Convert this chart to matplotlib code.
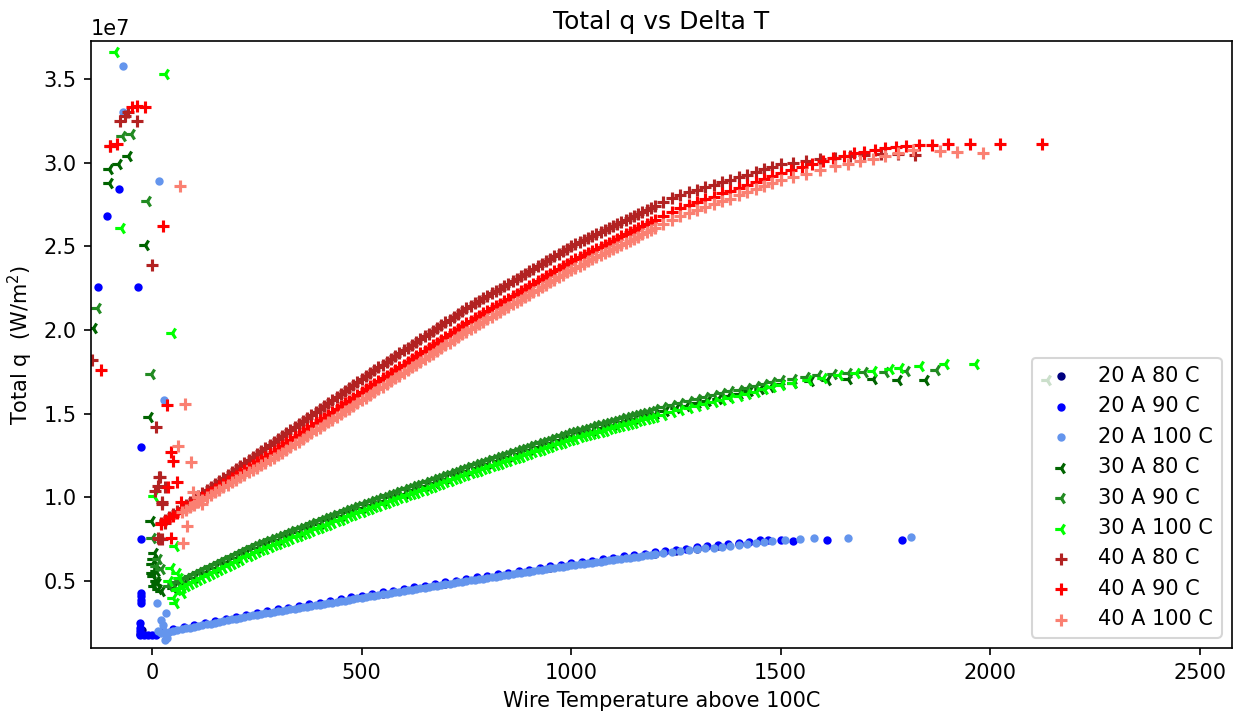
import matplotlib
matplotlib.use("Agg")
import matplotlib.pyplot as plt

# Wire temperature above 100 C (fine sampling of the steady sweeps)
DT = [20, 30, 40, 50, 60, 70, 80, 90,
      100, 110, 120, 130, 140, 150, 160, 170, 180, 190,
      200, 210, 220, 230, 240, 250, 260, 270, 280, 290,
      300, 310, 320, 330, 340, 350, 360, 370, 380, 390,
      400, 410, 420, 430, 440, 450, 460, 470, 480, 490,
      500, 510, 520, 530, 540, 550, 560, 570, 580, 590,
      600, 610, 620, 630, 640, 650, 660, 670, 680, 690,
      700, 710, 720, 730, 740, 750, 760, 770, 780, 790,
      800, 810, 820, 830, 840, 850, 860, 870, 880, 890,
      900, 910, 920, 930, 940, 950, 960, 970, 980, 990,
      1000, 1010, 1020, 1030, 1040, 1050, 1060, 1070, 1080, 1090,
      1100, 1110, 1120, 1130, 1140, 1150, 1160, 1170, 1180, 1190,
      1200, 1220, 1240, 1260, 1280, 1300, 1320, 1340, 1360, 1380,
      1400, 1420, 1440, 1460, 1480, 1500]

# Coarser sampling used by the partly hidden runs
DT_coarse = [25, 50, 75, 100, 125, 150, 175, 200, 225, 250,
             275, 300, 325, 350, 375, 400, 425, 450, 475, 500,
             525, 550, 575, 600, 625, 650, 675, 700, 725, 750,
             775, 800, 825, 850, 875, 900, 925, 950, 975, 1000,
             1025, 1050, 1075, 1100, 1125, 1150, 1175, 1200, 1225, 1250,
             1275, 1300, 1325, 1350, 1375, 1400, 1425, 1450, 1475, 1500]

# ---- 20 A (total heat flux in MW/m^2) -------------------------------------
x_20A_80C = [50, 100, 150, 200, 250, 300, 350, 400, 450, 500, 550, 600, 650, 700,
             750, 800, 850, 900, 950, 1000, 1050, 1100, 1150, 1200, 1250, 1300, 1350, 1400,
             -28, -25]
q_20A_80C = [2.07, 2.31, 2.55, 2.80, 3.05, 3.25, 3.45, 3.65, 3.85, 4.05, 4.25, 4.45, 4.65, 4.85,
             5.05, 5.24, 5.43, 5.62, 5.81, 6.00, 6.16, 6.32, 6.48, 6.64, 6.80, 6.94, 7.08, 7.22,
             1.85, 2.10]

q_20A_90C = [2.02, 2.14, 2.26, 2.38, 2.50, 2.62, 2.74, 2.87, 3.00, 3.12,
             3.22, 3.32, 3.42, 3.52, 3.62, 3.72, 3.82, 3.92, 4.02, 4.12,
             4.22, 4.32, 4.42, 4.52, 4.62, 4.72, 4.82, 4.92, 5.02, 5.12,
             5.22, 5.31, 5.41, 5.50, 5.60, 5.69, 5.79, 5.88, 5.98, 6.07,
             6.15, 6.23, 6.31, 6.39, 6.47, 6.55, 6.63, 6.71, 6.79, 6.87,
             6.94, 7.01, 7.08, 7.15, 7.22, 7.29, 7.36, 7.43]
extra_20A_90C_x = [1470, 1500, 1530, 1610, 1790,
                   -26, -26, -26, -26, -29, -29, -28, -30, -20, -10, 0, 10,
                   -26, -26, -129, -33, -107, -79]
extra_20A_90C_q = [7.45, 7.45, 7.40, 7.45, 7.45,
                   4.3, 4.1, 3.9, 3.7, 2.5, 2.2, 2.0, 1.8, 1.75, 1.75, 1.8, 1.8,
                   7.5, 13.0, 22.6, 22.6, 26.8, 28.4]

q_20A_100C = [1.88, 1.93, 1.97, 2.02, 2.07, 2.12, 2.17, 2.22,
              2.27, 2.32, 2.36, 2.41, 2.46, 2.51, 2.56, 2.61, 2.66, 2.71,
              2.76, 2.80, 2.85, 2.90, 2.95, 3.00, 3.04, 3.08, 3.12, 3.16,
              3.20, 3.24, 3.28, 3.32, 3.36, 3.40, 3.44, 3.48, 3.52, 3.56,
              3.60, 3.64, 3.68, 3.72, 3.76, 3.80, 3.84, 3.88, 3.92, 3.96,
              4.00, 4.04, 4.08, 4.12, 4.16, 4.20, 4.24, 4.28, 4.32, 4.36,
              4.40, 4.44, 4.48, 4.52, 4.56, 4.60, 4.64, 4.68, 4.72, 4.76,
              4.80, 4.84, 4.88, 4.92, 4.96, 5.00, 5.04, 5.08, 5.11, 5.15,
              5.19, 5.23, 5.27, 5.30, 5.34, 5.38, 5.42, 5.46, 5.49, 5.53,
              5.57, 5.61, 5.65, 5.68, 5.72, 5.76, 5.80, 5.84, 5.87, 5.91,
              5.95, 5.98, 6.01, 6.05, 6.08, 6.11, 6.14, 6.17, 6.21, 6.24,
              6.27, 6.30, 6.33, 6.37, 6.40, 6.43, 6.46, 6.49, 6.53, 6.56,
              6.59, 6.65, 6.72, 6.78, 6.83, 6.89, 6.95, 7.00, 7.06, 7.11,
              7.17, 7.23, 7.28, 7.34, 7.39]
extra_20A_100C_x = [1510, 1545, 1580, 1660, 1810,
                    -69, -69, 17, 29, 12, 33, 20, 25, 30, 35, 15]
extra_20A_100C_q = [7.45, 7.50, 7.55, 7.60, 7.65,
                    35.8, 33.0, 28.9, 15.8, 3.7, 3.1, 2.7, 2.4, 1.5, 1.6, 2.0]

# ---- 30 A ----------------------------------------------------------------
q_30A_80C = [4.57, 4.87, 5.17, 5.47, 5.77, 6.07, 6.37, 6.67, 6.95,
             7.19, 7.43, 7.67, 7.91, 8.15, 8.39, 8.63, 8.87, 9.11, 9.35,
             9.57, 9.79, 10.01, 10.23, 10.45, 10.67, 10.89, 11.11, 11.33, 11.55,
             11.76, 11.97, 12.18, 12.39, 12.60, 12.81, 13.02, 13.23, 13.44, 13.65,
             13.82, 13.99, 14.16, 14.33, 14.50, 14.67, 14.84, 15.01, 15.18, 15.35,
             15.49, 15.63, 15.77, 15.91, 16.05, 16.19, 16.33, 16.47, 16.61, 16.75]
extra_30A_80C_x = [1530, 1570, 1610, 1660, 1720, 1780, 1845, 2135,
                   -57, -81, -103, -103, -17, -141, -7, -2,
                   5, 2, 0, 8, 3, 10, 5, 15, 20, 0, 12]
extra_30A_80C_q = [16.85, 16.95, 17.0, 17.05, 17.05, 17.0, 17.0, 17.0,
                   30.4, 29.9, 29.6, 28.8, 25.1, 20.1, 14.8, 8.6,
                   6.7, 6.3, 6.0, 5.6, 5.3, 5.0, 4.7, 4.5, 4.4, 5.5, 4.9]

q_30A_90C = [4.70, 4.82, 4.94, 5.06, 5.18, 5.30,
             5.42, 5.54, 5.66, 5.78, 5.90, 6.02, 6.14, 6.26, 6.38, 6.50,
             6.62, 6.74, 6.86, 6.97, 7.09, 7.20, 7.30, 7.39, 7.49, 7.58,
             7.68, 7.78, 7.87, 7.97, 8.06, 8.16, 8.26, 8.35, 8.45, 8.54,
             8.64, 8.74, 8.83, 8.93, 9.02, 9.12, 9.22, 9.31, 9.41, 9.50,
             9.60, 9.69, 9.78, 9.86, 9.95, 10.04, 10.13, 10.22, 10.30, 10.39,
             10.48, 10.57, 10.66, 10.74, 10.83, 10.92, 11.01, 11.10, 11.18, 11.27,
             11.36, 11.45, 11.54, 11.62, 11.71, 11.80, 11.88, 11.97, 12.05, 12.14,
             12.22, 12.30, 12.39, 12.47, 12.56, 12.64, 12.72, 12.81, 12.89, 12.98,
             13.06, 13.14, 13.23, 13.31, 13.40, 13.48, 13.56, 13.65, 13.73, 13.82,
             13.90, 13.97, 14.04, 14.10, 14.17, 14.24, 14.31, 14.38, 14.44, 14.51,
             14.58, 14.65, 14.72, 14.78, 14.85, 14.92, 14.99, 15.06, 15.12, 15.19,
             15.26, 15.40, 15.53, 15.66, 15.77, 15.88, 15.99, 16.10, 16.22, 16.33,
             16.44, 16.55, 16.66, 16.78, 16.89, 17.00]
extra_30A_90C_x = [1530, 1560, 1590, 1625, 1660, 1700, 1750, 1800, 1870,
                   -12, -131, -2, 0, -50, -72, 8, 20, 15]
extra_30A_90C_q = [17.1, 17.2, 17.3, 17.38, 17.45, 17.5, 17.52, 17.55, 17.6,
                   27.7, 21.3, 17.4, 7.6, 31.7, 31.6, 5.9, 5.7, 6.3]

q_30A_100C = [4.49, 4.61, 4.73, 4.85,
              4.97, 5.09, 5.21, 5.33, 5.45, 5.57, 5.69, 5.81, 5.93, 6.05,
              6.17, 6.29, 6.41, 6.52, 6.64, 6.75, 6.85, 6.94, 7.04, 7.13,
              7.23, 7.33, 7.42, 7.52, 7.61, 7.71, 7.81, 7.90, 8.00, 8.09,
              8.19, 8.29, 8.38, 8.48, 8.57, 8.67, 8.77, 8.86, 8.96, 9.05,
              9.15, 9.24, 9.33, 9.41, 9.50, 9.59, 9.68, 9.77, 9.85, 9.94,
              10.03, 10.12, 10.21, 10.29, 10.38, 10.47, 10.56, 10.65, 10.73, 10.82,
              10.91, 11.00, 11.09, 11.17, 11.26, 11.35, 11.43, 11.52, 11.60, 11.69,
              11.77, 11.85, 11.94, 12.02, 12.11, 12.19, 12.27, 12.36, 12.44, 12.53,
              12.61, 12.69, 12.78, 12.86, 12.95, 13.03, 13.11, 13.20, 13.28, 13.37,
              13.45, 13.52, 13.59, 13.65, 13.72, 13.79, 13.86, 13.93, 13.99, 14.06,
              14.13, 14.20, 14.27, 14.33, 14.40, 14.47, 14.54, 14.61, 14.67, 14.74,
              14.81, 14.95, 15.08, 15.21, 15.33, 15.45, 15.57, 15.69, 15.81, 15.93,
              16.06, 16.19, 16.32, 16.45, 16.57, 16.70]
extra_30A_100C_x = [1530, 1565, 1600, 1640, 1680, 1720, 1760, 1785, 1833, 1893, 1964,
                    -88, 31, -74, 48, 5, 55, 45, 60, 65, 50, 55, 62, 40, 70]
extra_30A_100C_q = [16.85, 17.0, 17.15, 17.3, 17.42, 17.55, 17.65, 17.75, 17.85, 17.95, 18.0,
                    36.6, 35.3, 26.1, 19.8, 10.1, 7.1, 5.8, 5.5, 5.2, 4.0, 3.7, 4.5, 5.0, 4.3]

# ---- 40 A ----------------------------------------------------------------
q_40A_80C = [8.46, 8.64, 8.82, 9.00, 9.18, 9.36, 9.54, 9.72,
             9.90, 10.08, 10.26, 10.44, 10.62, 10.80, 10.98, 11.16, 11.34, 11.52,
             11.70, 11.88, 12.06, 12.24, 12.42, 12.60, 12.78, 12.96, 13.14, 13.32,
             13.50, 13.68, 13.86, 14.04, 14.22, 14.40, 14.58, 14.76, 14.94, 15.12,
             15.30, 15.48, 15.66, 15.84, 16.02, 16.20, 16.38, 16.56, 16.74, 16.92,
             17.10, 17.27, 17.44, 17.60, 17.77, 17.94, 18.11, 18.28, 18.44, 18.61,
             18.78, 18.95, 19.12, 19.28, 19.45, 19.62, 19.79, 19.96, 20.12, 20.29,
             20.46, 20.63, 20.80, 20.96, 21.13, 21.30, 21.45, 21.60, 21.74, 21.89,
             22.04, 22.19, 22.34, 22.48, 22.63, 22.78, 22.93, 23.08, 23.22, 23.37,
             23.52, 23.67, 23.82, 23.96, 24.11, 24.26, 24.41, 24.56, 24.70, 24.85,
             25.00, 25.12, 25.24, 25.36, 25.48, 25.60, 25.72, 25.84, 25.96, 26.08,
             26.20, 26.32, 26.44, 26.56, 26.68, 26.80, 26.92, 27.04, 27.16, 27.28,
             27.40, 27.64, 27.88, 28.08, 28.23, 28.38, 28.53, 28.68, 28.84, 28.99,
             29.14, 29.29, 29.44, 29.60, 29.75, 29.90]
extra_40A_80C_x = [1530, 1560, 1595, 1630, 1665, 1700, 1740, 1780, 1821,
                   -57, -64, -76, -36, -100, 0, -143, 10, 17, 7, 24, 17, 31,
                   19, 14, 31, 24, 14, 24]
extra_40A_80C_q = [30.0, 30.1, 30.2, 30.3, 30.38, 30.45, 30.5, 30.5, 30.45,
                   33.0, 32.8, 32.5, 32.5, 31.0, 23.9, 18.2, 14.2, 11.2, 10.4, 9.6, 7.5, 8.5,
                   11.2, 10.7, 10.6, 9.7, 7.6, 7.5]

q_40A_90C = [8.42, 8.58, 8.74, 8.90, 9.06, 9.22, 9.38, 9.54,
             9.70, 9.86, 10.02, 10.18, 10.34, 10.50, 10.66, 10.82, 10.98, 11.14,
             11.30, 11.46, 11.62, 11.78, 11.94, 12.10, 12.26, 12.42, 12.58, 12.74,
             12.90, 13.07, 13.24, 13.41, 13.58, 13.75, 13.92, 14.09, 14.26, 14.43,
             14.60, 14.77, 14.94, 15.11, 15.28, 15.45, 15.62, 15.79, 15.96, 16.13,
             16.30, 16.46, 16.63, 16.79, 16.96, 17.12, 17.28, 17.45, 17.61, 17.78,
             17.94, 18.10, 18.27, 18.43, 18.60, 18.76, 18.92, 19.09, 19.25, 19.42,
             19.58, 19.74, 19.91, 20.07, 20.24, 20.40, 20.55, 20.70, 20.84, 20.99,
             21.14, 21.29, 21.44, 21.58, 21.73, 21.88, 22.03, 22.18, 22.32, 22.47,
             22.62, 22.77, 22.92, 23.06, 23.21, 23.36, 23.51, 23.66, 23.80, 23.95,
             24.10, 24.22, 24.35, 24.47, 24.60, 24.72, 24.84, 24.97, 25.09, 25.22,
             25.34, 25.46, 25.59, 25.71, 25.84, 25.96, 26.08, 26.21, 26.33, 26.46,
             26.58, 26.83, 27.08, 27.29, 27.46, 27.64, 27.81, 27.98, 28.16, 28.33,
             28.51, 28.68, 28.86, 29.03, 29.20, 29.38]
extra_40A_90C_x = [1525, 1550, 1575, 1600, 1625, 1650, 1675, 1700, 1725, 1750, 1775, 1800,
                   1830, 1862, 1900, 1952, 2024, 2124,
                   -48, -36, -17, -84, -100, 26, -122, 36, 45, 50, 38, 60, 69, 45]
extra_40A_90C_q = [29.58, 29.77, 29.95, 30.12, 30.28, 30.42, 30.55, 30.66, 30.76, 30.85, 30.93, 31.0,
                   31.05, 31.08, 31.1, 31.1, 31.1, 31.1,
                   33.3, 33.4, 33.3, 31.1, 31.0, 26.2, 17.6, 15.5, 12.7, 12.2, 10.6, 10.9, 9.7, 7.6]

q_40A_100C = [9.13, 9.27, 9.42,
              9.57, 9.72, 9.86, 10.01, 10.16, 10.31, 10.45, 10.60, 10.75, 10.90,
              11.04, 11.19, 11.34, 11.49, 11.63, 11.78, 11.93, 12.08, 12.22, 12.37,
              12.52, 12.68, 12.85, 13.01, 13.18, 13.34, 13.50, 13.67, 13.83, 14.00,
              14.16, 14.32, 14.49, 14.65, 14.82, 14.98, 15.14, 15.31, 15.47, 15.64,
              15.80, 15.96, 16.13, 16.29, 16.46, 16.62, 16.78, 16.95, 17.11, 17.28,
              17.44, 17.60, 17.77, 17.93, 18.10, 18.26, 18.42, 18.59, 18.75, 18.92,
              19.08, 19.24, 19.41, 19.57, 19.74, 19.90, 20.05, 20.20, 20.34, 20.49,
              20.64, 20.79, 20.94, 21.08, 21.23, 21.38, 21.53, 21.68, 21.82, 21.97,
              22.12, 22.27, 22.42, 22.56, 22.71, 22.86, 23.01, 23.16, 23.30, 23.45,
              23.60, 23.72, 23.85, 23.97, 24.10, 24.22, 24.34, 24.47, 24.59, 24.72,
              24.84, 24.96, 25.09, 25.21, 25.34, 25.46, 25.58, 25.71, 25.83, 25.96,
              26.08, 26.33, 26.58, 26.79, 26.97, 27.15, 27.33, 27.51, 27.69, 27.86,
              28.04, 28.22, 28.40, 28.58, 28.76, 28.94]
extra_40A_100C_x = [1530, 1560, 1595, 1630, 1660, 1690, 1720, 1750, 1780, 1816, 1881, 1921, 1983,
                    67, 79, 62, 93, 98, 107, 74, 84, 110, 120]
extra_40A_100C_q = [29.14, 29.33, 29.55, 29.78, 29.95, 30.1, 30.25, 30.4, 30.55, 30.75, 30.7, 30.65, 30.6,
                    28.6, 15.6, 13.1, 12.1, 10.3, 9.7, 7.3, 8.3, 10.0, 9.6]

labels = ["20 A 80 C", "20 A 90 C", "20 A 100 C",
          "30 A 80 C", "30 A 90 C", "30 A 100 C",
          "40 A 80 C", "40 A 90 C", "40 A 100 C"]
colors = ["navy", "blue", "cornflowerblue",
          "darkgreen", "forestgreen", "lime",
          "firebrick", "red", "salmon"]
markers = [".", ".", ".", "3", "3", "3", "+", "+", "+"]


def run(grid, start, dense_q, extra_x, extra_q):
    """Join a run's steady sweep (sampled on `grid`) with its sparse/transient points."""
    xs = list(grid[start:start + len(dense_q)]) + list(extra_x)
    qs = list(dense_q) + list(extra_q)
    return xs, [v * 1e6 for v in qs]


runs = [
    run(x_20A_80C, 0, q_20A_80C, [], []),
    run(DT_coarse, 0, q_20A_90C, extra_20A_90C_x, extra_20A_90C_q),
    run(DT, 0, q_20A_100C, extra_20A_100C_x, extra_20A_100C_q),
    run(DT_coarse, 1, q_30A_80C, extra_30A_80C_x, extra_30A_80C_q),
    run(DT, 2, q_30A_90C, extra_30A_90C_x, extra_30A_90C_q),
    run(DT, 4, q_30A_100C, extra_30A_100C_x, extra_30A_100C_q),
    run(DT, 0, q_40A_80C, extra_40A_80C_x, extra_40A_80C_q),
    run(DT, 0, q_40A_90C, extra_40A_90C_x, extra_40A_90C_q),
    run(DT, 5, q_40A_100C, extra_40A_100C_x, extra_40A_100C_q),
]

fig = plt.figure(figsize=(1240 / 150, 721 / 150), dpi=150)
ax = fig.add_axes([0.0734, 0.1012, 0.9201, 0.8419])

for (xs, qs), lab, col, mk in zip(runs, labels, colors, markers):
    ax.scatter(xs, qs, marker=mk, color=col, label=lab)

ax.set_xlim(-146, 2577)
ax.set_ylim(1.0e6, 3.727e7)
ax.set_title("Total q vs Delta T")
ax.set_xlabel("Wire Temperature above 100C")
ax.set_ylabel("Total q  (W/m$^2$)")
ax.legend(loc="lower right")

fig.savefig("out.png", dpi=150)
